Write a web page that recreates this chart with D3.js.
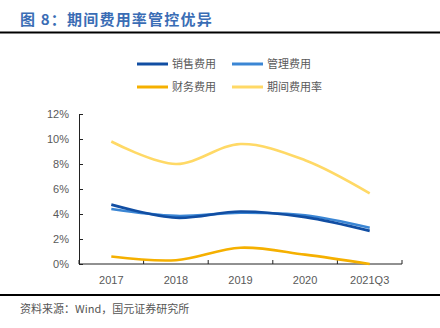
<!DOCTYPE html>
<html><head><meta charset="utf-8">
<script src="https://cdn.jsdelivr.net/npm/d3@7"></script>
<style>body{margin:0;background:#fff;}svg{display:block;}</style>
</head><body>
<svg id="c" width="440" height="328"></svg>
<script>
const categories = ["2017","2018","2019","2020","2021Q3"];
const seriesNames = ["销售费用","管理费用","财务费用","期间费用率"];
const sales = [4.75, 3.7, 4.2, 3.75, 2.65];
const admin = [4.4, 3.85, 4.1, 3.9, 2.9];
const finance = [0.6, 0.3, 1.3, 0.75, 0.0];
const period = [9.8, 8.0, 9.6, 8.3, 5.65];
const yTicks = [0,2,4,6,8,10,12];
const colors = ["#114ea3","#3b86d4","#f5b000","#ffd966"];

const svg = d3.select("#c");
const font = "Liberation Sans, Arial, sans-serif";
const cjk = "Noto Sans CJK SC, sans-serif";

svg.append("text").attr("x",20).attr("y",25).attr("fill","#3a6db5")
  .attr("font-family",cjk).attr("font-weight","bold").attr("font-size",15)
  .attr("letter-spacing",1.2)
  .text("图 8：期间费用率管控优异");
svg.append("line").attr("x1",0).attr("x2",440).attr("y1",32.5).attr("y2",32.5).attr("stroke","#000").attr("stroke-width",2);
svg.append("line").attr("x1",0).attr("x2",440).attr("y1",295).attr("y2",295).attr("stroke","#000").attr("stroke-width",2);
svg.append("text").attr("x",20).attr("y",313).attr("fill","#555")
  .attr("font-family",cjk).attr("font-size",11).text("资料来源：Wind，国元证券研究所");

const x = d3.scaleBand().domain(categories).range([79,402]);
const y = d3.scaleLinear().domain([0,12]).range([264,114]);

const xAxis = svg.append("g").attr("transform","translate(0,264)")
  .call(d3.axisBottom(x).tickSize(5).tickFormat(d=>d));
xAxis.select(".domain").remove();
xAxis.selectAll(".tick line").remove();
xAxis.selectAll("text").attr("font-family",font).attr("font-size",11).attr("fill","#595959").attr("dy","1.1em");
svg.append("line").attr("x1",79).attr("x2",402).attr("y1",264).attr("y2",264).attr("stroke","#222");
svg.selectAll(".xt").data(d3.range(categories.length+1)).enter().append("line")
  .attr("x1",i=>x.range()[0]+i*x.step()).attr("x2",i=>x.range()[0]+i*x.step())
  .attr("y1",264).attr("y2",260).attr("stroke","#222");

const yAxis = svg.append("g").attr("transform","translate(79,0)")
  .call(d3.axisLeft(y).tickValues(yTicks).tickSize(-4).tickPadding(10).tickFormat(d=>d+"%"));
yAxis.select(".domain").attr("stroke","#222");
yAxis.selectAll(".tick line").attr("stroke","#222").attr("x2",4);
yAxis.selectAll("text").attr("font-family",font).attr("font-size",11).attr("fill","#595959");

const data = [sales, admin, finance, period];
const line = d3.line().x((d,i)=>x(categories[i])+x.bandwidth()/2).y(d=>y(d)).curve(d3.curveCatmullRom.alpha(0.5));
[3,2,1,0].forEach(k=>{
  svg.append("path").attr("d",line(data[k])).attr("fill","none").attr("stroke",colors[k]).attr("stroke-width",2.6);
});

const leg = [[137,64],[232,64],[137,87],[232,87]];
seriesNames.forEach((n,k)=>{
  const [lx,ly]=leg[k];
  svg.append("line").attr("x1",lx).attr("x2",lx+31).attr("y1",ly).attr("y2",ly).attr("stroke",colors[k]).attr("stroke-width",3);
  svg.append("text").attr("x",lx+35).attr("y",ly+4).attr("font-family",cjk).attr("font-size",11).attr("fill","#595959").text(n);
});
</script>
</body></html>
